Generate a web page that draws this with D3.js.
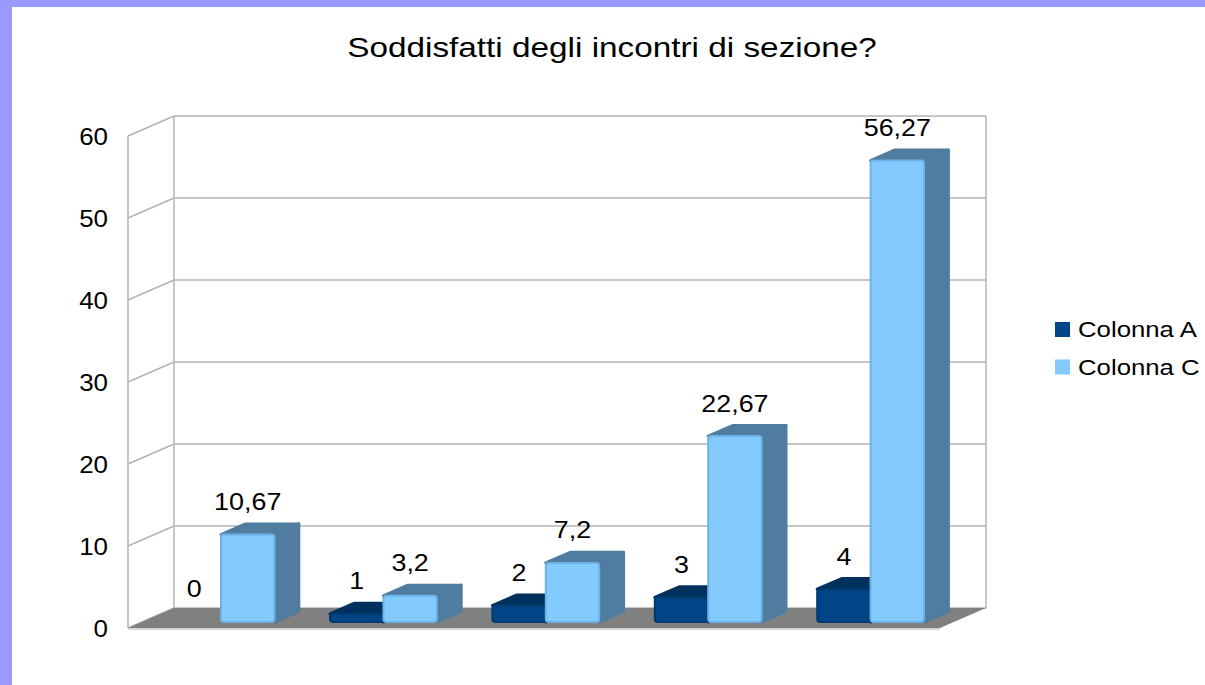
<!doctype html>
<html>
<head>
    <meta charset="UTF-8">
    <title>Soddisfatti degli incontri di sezione?</title>
    <script src="https://cdn.jsdelivr.net/npm/d3@7/dist/d3.min.js"></script>
    <style>
        body { margin: 0; background: #9999ff; }
        svg { display: block; font-family: "Liberation Sans", Arial, sans-serif; }
    </style>
</head>
<body>
<svg id="chart" width="1205" height="685"></svg>
<script>
    // data
    var categories = ["0", "1", "2", "3", "4"];
    var series = ["Colonna A", "Colonna C"];
    var colonnaA = [0, 1, 2, 3, 4];
    var colonnaC = [10.67, 3.2, 7.2, 22.67, 56.27];
    var yTicks = [0, 10, 20, 30, 40, 50, 60];

    var values = [colonnaA, colonnaC];
    var front = ["#004586", "#83caff"];
    var topCol = ["#00305d", "#4f7c9f"];
    var sideCol = ["#00325f", "#4f7c9f"];
    var edge = ["#003a70", "#6db2e6"];

    // text in the original is a bit wider than Liberation Sans
    function wide(x, y, s) { return "translate(" + x + "," + y + ") scale(" + s + ",1)"; }

    var svg = d3.select("#chart");
    // white page inside the purple frame
    svg.append("rect").attr("x", 12).attr("y", 7).attr("width", 1193).attr("height", 678).attr("fill", "white");

    // depth of the 3D box
    var ddx = 46, ddy = -20;
    var y = d3.scaleLinear().domain([0, 60]).range([628, 136]);
    var x0 = d3.scaleBand().domain(categories).range([126, 938]);
    var x1 = d3.scaleBand().domain(series).range([0, x0.bandwidth()]).paddingOuter(0.52);

    // bars sit between these depth fractions
    var f1 = 0.3, f2 = 0.83;

    var grid = "#b3b3b3";
    // back wall gridlines
    svg.selectAll(".gb").data(yTicks).enter().append("line")
        .attr("x1", 128 + ddx).attr("x2", 940 + ddx)
        .attr("y1", function(d) { return y(d) + ddy; })
        .attr("y2", function(d) { return y(d) + ddy; })
        .attr("stroke", grid).attr("stroke-width", 1.5);
    // side wall gridlines
    svg.selectAll(".gs").data(yTicks).enter().append("line")
        .attr("x1", 128).attr("x2", 128 + ddx)
        .attr("y1", function(d) { return y(d); })
        .attr("y2", function(d) { return y(d) + ddy; })
        .attr("stroke", grid).attr("stroke-width", 1.5);
    // verticals
    [[128, 0], [128 + ddx, ddy], [940 + ddx, ddy]].forEach(function(p) {
        svg.append("line").attr("x1", p[0]).attr("x2", p[0])
            .attr("y1", y(60) + p[1]).attr("y2", y(0) + p[1])
            .attr("stroke", grid).attr("stroke-width", 1.5);
    });

    // floor
    svg.append("polygon")
        .attr("points", [[128, y(0)], [940, y(0)], [940 + ddx, y(0) + ddy], [128 + ddx, y(0) + ddy]].join(" "))
        .attr("fill", "#808080");
    svg.append("line").attr("x1", 128).attr("x2", 940).attr("y1", y(0) + 1).attr("y2", y(0) + 1)
        .attr("stroke", "#c8c8c8").attr("stroke-width", 1.5);

    // y tick labels
    svg.selectAll(".yt").data(yTicks).enter().append("text")
        .attr("transform", function(d) { return wide(108, y(d) + 3, 1.08); })
        .attr("text-anchor", "end").attr("dominant-baseline", "middle")
        .attr("font-size", 24).attr("fill", "#000")
        .text(function(d) { return d; });

    // bars
    var bars = [];
    categories.forEach(function(c, i) {
        series.forEach(function(s, j) {
            bars.push({ cat: c, s: s, j: j, v: values[j][i] });
        });
    });

    var dx1 = f1 * ddx, dy1 = f1 * ddy;
    var bdx = (f2 - f1) * ddx, bdy = (f2 - f1) * ddy;

    var g = svg.selectAll(".bar").data(bars).enter().append("g");
    g.each(function(d) {
        var el = d3.select(this);
        var xl = x0(d.cat) + x1(d.s) + dx1;
        var w = x1.bandwidth();
        var yb = y(0) + dy1;
        var yt = y(d.v) + dy1;
        if (d.v > 0) {
            // side face
            el.append("path")
                .attr("d", "M" + (xl + w) + "," + yt + " L" + (xl + w + bdx) + "," + (yt + bdy) +
                    " L" + (xl + w + bdx) + "," + (yb + bdy) + " L" + (xl + w) + "," + yb + "Z")
                .attr("fill", sideCol[d.j]).attr("stroke", sideCol[d.j]).attr("stroke-linejoin", "round")
                .attr("stroke-width", 3);
            // top face
            el.append("path")
                .attr("d", "M" + xl + "," + yt + " L" + (xl + bdx) + "," + (yt + bdy) +
                    " L" + (xl + w + bdx) + "," + (yt + bdy) + " L" + (xl + w) + "," + yt + "Z")
                .attr("fill", topCol[d.j]).attr("stroke", topCol[d.j]).attr("stroke-linejoin", "round")
                .attr("stroke-width", 3);
            // front face
            el.append("rect")
                .attr("x", xl).attr("y", yt).attr("width", w).attr("height", yb - yt)
                .attr("rx", 3)
                .attr("fill", front[d.j]).attr("stroke", edge[d.j]).attr("stroke-width", 2);
        }
        // value label
        el.append("text")
            .attr("transform", wide(xl + w / 2, yt + bdy - 14, 1.12))
            .attr("text-anchor", "middle").attr("font-size", 24).attr("fill", "#000")
            .text(String(d.v).replace(".", ","));
    });

    // title
    svg.append("text").attr("transform", wide(612, 57, 1.19)).attr("text-anchor", "middle")
        .attr("font-size", 28).attr("fill", "#000")
        .text("Soddisfatti degli incontri di sezione?");

    // legend
    var lg = svg.selectAll(".lg").data(series).enter().append("g")
        .attr("transform", function(d, i) { return "translate(1055," + (322 + i * 37.5) + ")"; });
    lg.append("rect").attr("width", 15).attr("height", 15)
        .attr("fill", function(d, i) { return front[i]; });
    lg.append("text").attr("transform", wide(23, 15, 1.12)).attr("font-size", 23).attr("fill", "#000")
        .text(function(d) { return d; });
</script>
</body>
</html>
